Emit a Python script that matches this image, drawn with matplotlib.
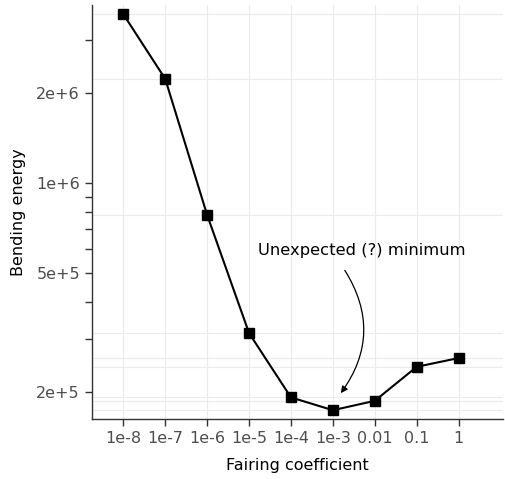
import matplotlib.pyplot as plt
from matplotlib.ticker import FixedLocator, NullFormatter

# fairing coefficient vs bending energy
coef_labels = ["1e-8", "1e-7", "1e-6", "1e-5", "1e-4", "1e-3", "0.01", "0.1", "1"]
energy = [3.67e6, 2.23e6, 7.82e5, 3.15e5, 1.92e5, 1.74e5, 1.87e5, 2.43e5, 2.60e5]

y_major = [2e5, 5e5, 1e6, 2e6]
y_major_labels = ["2e+5", "5e+5", "1e+6", "2e+6"]
y_minor = [3e5, 4e5, 6e5, 7e5, 8e5, 9e5, 3e6]

x = list(range(len(coef_labels)))

fig = plt.figure(figsize=(5.05, 4.79), dpi=100)
ax = fig.add_axes([91.7 / 505, 60 / 479, (503 - 91.7) / 505, (474 - 60) / 479])

# gridlines sit at the categories and at the data values
for xi in x:
    ax.axvline(xi, color="#ebebeb", linewidth=0.8, zorder=0)
for e in energy:
    ax.axhline(e, color="#ebebeb", linewidth=0.8, zorder=0)

ax.plot(x, energy, c="black", linewidth=1.5, marker="s", markersize=7.5, zorder=3)

ax.set_yscale("log")
ax.set_xlim(-0.755, 9.06)
ax.set_ylim(1.626e5, 3.94e6)

ax.set_xticks(x)
ax.set_xticklabels(coef_labels)
ax.yaxis.set_major_locator(FixedLocator(y_major))
ax.set_yticklabels(y_major_labels)
ax.yaxis.set_minor_locator(FixedLocator(y_minor))
ax.yaxis.set_minor_formatter(NullFormatter())

ax.tick_params(axis="both", which="both", direction="out", length=5, width=1,
               color="#333333", labelcolor="#4d4d4d", labelsize=11.5)
for side in ["top", "right"]:
    ax.spines[side].set_visible(False)
for side in ["left", "bottom"]:
    ax.spines[side].set_color("#333333")
    ax.spines[side].set_linewidth(1)

ax.set_xlabel("Fairing coefficient", fontsize=11.5, color="black", labelpad=9)
ax.set_ylabel("Bending energy", fontsize=11.5, color="black", labelpad=7)

ax.text(5.69, 5.93e5, "Unexpected (?) minimum", fontsize=11.8, ha="center", va="center")
ax.annotate("", xy=(5.15, 1.95e5), xytext=(5.25, 5.2e5),
            arrowprops=dict(arrowstyle="-|>", color="black", linewidth=0.9,
                            mutation_scale=10,
                            connectionstyle="arc3,rad=-0.35"))

plt.savefig("out.png")
